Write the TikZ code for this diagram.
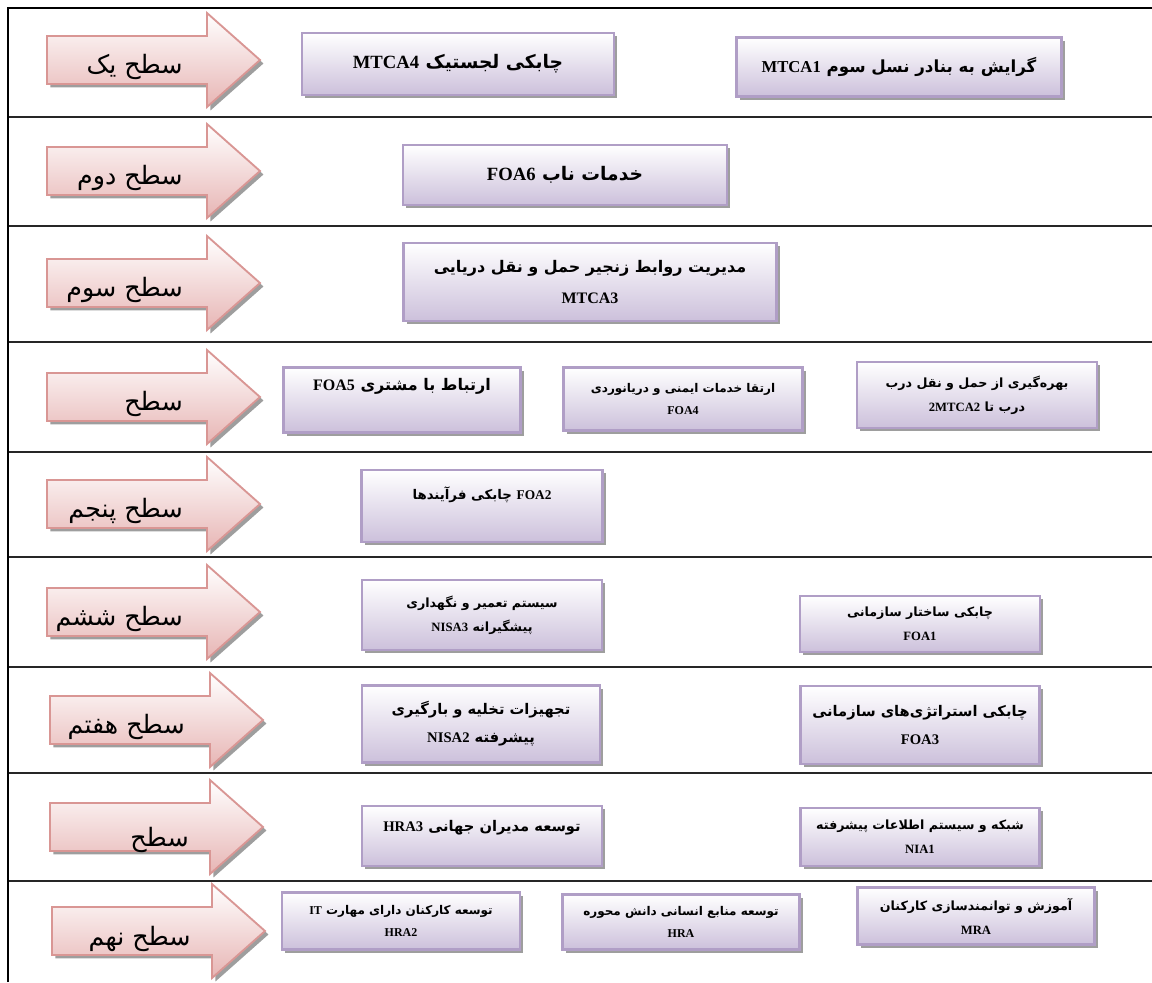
\documentclass[tikz,border=0pt]{standalone}
\usepackage{fontspec}
\setmainfont{Liberation Serif}
\newfontfamily\arabicfont[Script=Arabic]{DejaVu Sans}
\TeXXeTstate=1
\usetikzlibrary{shadows}
\definecolor{arrowline}{RGB}{217,150,148}
\definecolor{arrowfill}{RGB}{231,181,180}
\definecolor{boxline}{RGB}{176,158,198}
\definecolor{boxfill}{RGB}{204,192,219}
\definecolor{shadowgray}{RGB}{158,158,158}
\newcommand\boxfont[1]{\fontsize{#1pt}{\dimexpr#1pt*19/10\relax}\selectfont}
\newcommand\lat[1]{\beginL{\rmfamily\bfseries #1}\endL}

\begin{document}
\begin{tikzpicture}[x=0.75pt,y=-0.75pt,line join=miter,
  frameline/.style={line width=2.2pt,black},
  rowline/.style={line width=1.4pt,black!85},
  shade/.style={drop shadow={shadow xshift=2.6pt,shadow yshift=-2.6pt,fill=shadowgray,opacity=1}},
  lvlarrow/.style={draw=arrowline,line width=1.4pt,top color=white,bottom color=arrowfill,shade},
  lvltext/.style={font=\arabicfont\fontsize{19pt}{22pt}\selectfont,anchor=east,inner sep=0pt},
  mbox/.style={draw=boxline,line width=1.6pt,top color=white,bottom color=boxfill,shade,
    align=center,inner sep=2pt,font=\arabicfont\bfseries\boxfont{#1}},
  wh/.style 2 args={minimum width=#1*0.75pt,minimum height=#2*0.75pt}]
\useasboundingbox (0,0) rectangle (1152,982);

% table frame and rows
\draw[rowline] (8,117) -- (1152,117);
\draw[rowline] (8,226) -- (1152,226);
\draw[rowline] (8,342) -- (1152,342);
\draw[rowline] (8,452) -- (1152,452);
\draw[rowline] (8,557) -- (1152,557);
\draw[rowline] (8,667) -- (1152,667);
\draw[rowline] (8,773) -- (1152,773);
\draw[rowline] (8,881) -- (1152,881);
\draw[frameline] (8,982) -- (8,8) -- (1152,8);

% level arrows
\draw[lvlarrow] (47,36) -- ++(160,0) -- ++(0,-23) -- ++(53,47) -- ++(-53,47) -- ++(0,-23) -- ++(-160,0) -- cycle;
\draw[lvlarrow] (47,147) -- ++(160,0) -- ++(0,-23) -- ++(53,47) -- ++(-53,47) -- ++(0,-23) -- ++(-160,0) -- cycle;
\draw[lvlarrow] (47,259) -- ++(160,0) -- ++(0,-23) -- ++(53,47) -- ++(-53,47) -- ++(0,-23) -- ++(-160,0) -- cycle;
\draw[lvlarrow] (47,373) -- ++(160,0) -- ++(0,-23) -- ++(53,47) -- ++(-53,47) -- ++(0,-23) -- ++(-160,0) -- cycle;
\draw[lvlarrow] (47,480) -- ++(160,0) -- ++(0,-23) -- ++(53,47) -- ++(-53,47) -- ++(0,-23) -- ++(-160,0) -- cycle;
\draw[lvlarrow] (47,588) -- ++(160,0) -- ++(0,-23) -- ++(53,47) -- ++(-53,47) -- ++(0,-23) -- ++(-160,0) -- cycle;
\draw[lvlarrow] (50,696) -- ++(160,0) -- ++(0,-23) -- ++(53,47) -- ++(-53,47) -- ++(0,-23) -- ++(-160,0) -- cycle;
\draw[lvlarrow] (50,803) -- ++(160,0) -- ++(0,-23) -- ++(53,47) -- ++(-53,47) -- ++(0,-23) -- ++(-160,0) -- cycle;
\draw[lvlarrow] (52,907) -- ++(160,0) -- ++(0,-23) -- ++(53,47) -- ++(-53,47) -- ++(0,-23) -- ++(-160,0) -- cycle;

\node[lvltext] (lvl1) at (183,67) {\beginR سطح یک\endR};
\node[lvltext] (lvl2) at (183,178) {\beginR سطح دوم\endR};
\node[lvltext] (lvl3) at (183,290) {\beginR سطح سوم\endR};
\node[lvltext] (lvl4) at (183,404) {\beginR سطح\endR};
\node[lvltext] (lvl5) at (183,511) {\beginR سطح پنجم\endR};
\node[lvltext] (lvl6) at (183,619) {\beginR سطح ششم\endR};
\node[lvltext] (lvl7) at (185,727) {\beginR سطح هفتم\endR};
\node[lvltext] (lvl8) at (189,840) {\beginR سطح\endR};
\node[lvltext] (lvl9) at (191,939) {\beginR سطح نهم\endR};

% level 1
\node[mbox=14,wh={312}{62}] (mtca4) at (458,64) {\beginR چابکی لجستیک \lat{MTCA4}\endR};
\node[mbox=12.5,wh={325}{59}] (mtca1) at (899,67) {\beginR گرایش به بنادر نسل سوم \lat{MTCA1}\endR};
% level 2
\node[mbox=14,wh={324}{60}] (foa6) at (565,175) {\beginR خدمات ناب \lat{FOA6}\endR};
% level 3
\node[mbox=12,wh={373}{78}] (mtca3) at (590,282) {\beginR مدیریت روابط زنجیر حمل و نقل دریایی\endR\\\lat{MTCA3}};
% level 4
\node[mbox=12,wh={237}{65}] (foa5) at (402,400) {\beginR ارتباط با مشتری \lat{FOA5}\endR\\\mbox{}};
\node[mbox=9,wh={239}{63}] (foa4) at (683,399) {\beginR ارتقا خدمات ایمنی و دریانوردی\endR\\\lat{FOA4}};
\node[mbox=9.5,wh={240}{66}] (mtca2) at (977,395) {\beginR بهره‌گیری از حمل و نقل درب\endR\\\beginR درب تا \lat{2MTCA2}\endR};
% level 5
\node[mbox=10,wh={241}{72}] (foa2) at (482,506) {\beginR \lat{FOA2} چابکی فرآیندها\endR\\\mbox{}};
% level 6
\node[mbox=9.5,wh={240}{70}] (nisa3) at (482,615) {\beginR سیستم تعمیر و نگهداری\endR\\\beginR پیشگیرانه \lat{NISA3}\endR};
\node[mbox=9.5,wh={240}{56}] (foa1) at (920,624) {\beginR چابکی ساختار سازمانی\endR\\\lat{FOA1}};
% level 7
\node[mbox=11,wh={238}{77}] (nisa2) at (481,724) {\beginR تجهیزات تخلیه و بارگیری\endR\\\beginR پیشرفته \lat{NISA2}\endR};
\node[mbox=11,wh={239}{78}] (foa3) at (920,725) {\beginR چابکی استراتژی‌های سازمانی\endR\\\lat{FOA3}};
% level 8
\node[mbox=11,wh={240}{60}] (hra3) at (482,836) {\beginR توسعه مدیران جهانی \lat{HRA3}\endR\\[-6pt]\mbox{}};
\node[mbox=9.5,wh={239}{58}] (nia1) at (920,837) {\beginR شبکه و سیستم اطلاعات پیشرفته\endR\\\lat{NIA1}};
% level 9
\node[mbox=9,wh={238}{57}] (hra2) at (401,921) {\beginR توسعه کارکنان دارای مهارت \lat{IT}\endR\\\lat{HRA2}};
\node[mbox=9,wh={237}{55}] (hra) at (681,922) {\beginR توسعه منابع انسانی دانش محوره\endR\\\lat{HRA}};
\node[mbox=9.5,wh={237}{57}] (mra) at (976,916) {\beginR آموزش و توانمندسازی کارکنان\endR\\\lat{MRA}};
\end{tikzpicture}
\end{document}
